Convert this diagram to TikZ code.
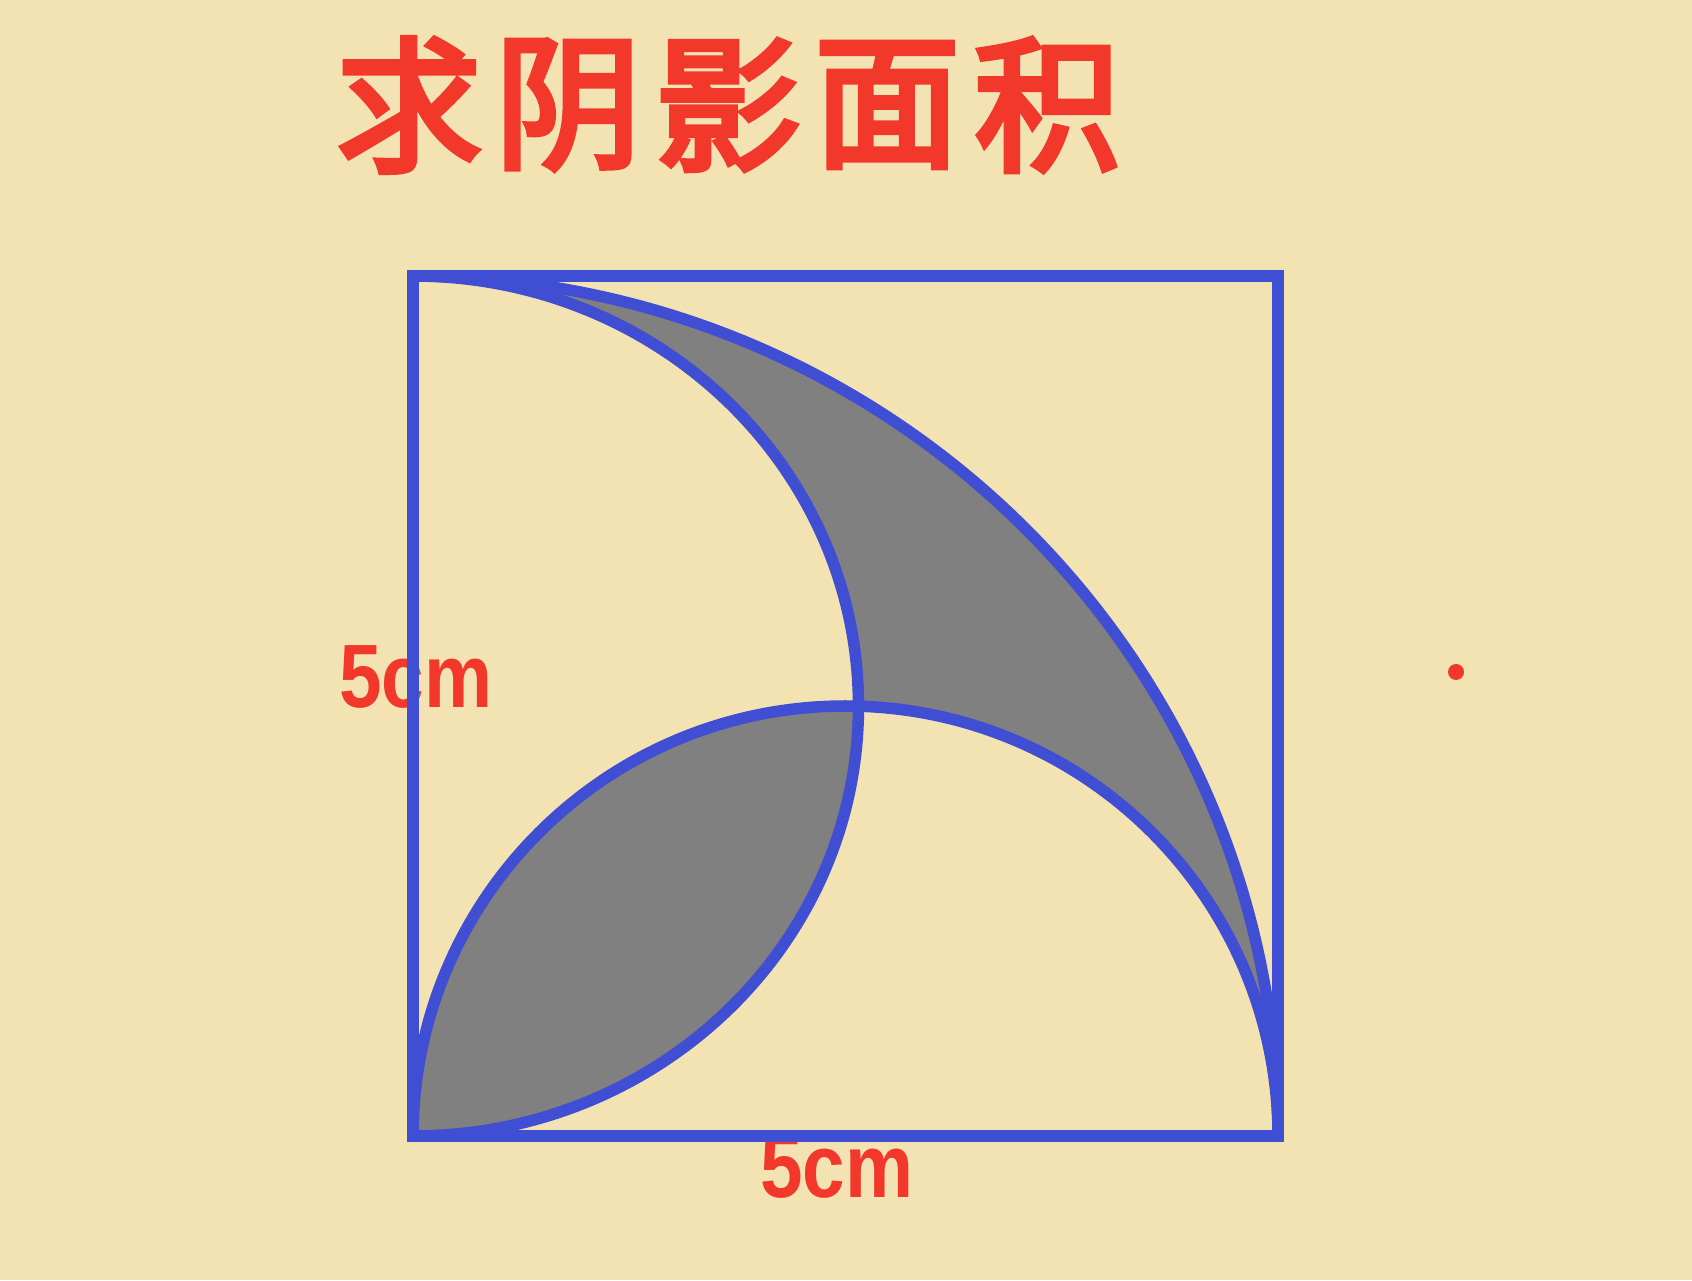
\documentclass[tikz,border=0pt]{standalone}
\usepackage{fontspec}
\setmainfont{Liberation Sans}
\newfontfamily\cjk{Noto Sans CJK SC}[FakeBold=4]
\definecolor{bgc}{HTML}{F3E2B2}
\definecolor{blu}{HTML}{3F4ED2}
\definecolor{rd}{HTML}{F2382A}
\definecolor{gry}{HTML}{808080}
\tikzset{
  edge/.style={draw=blu, line width=11.5pt, line join=miter},
  arcline/.style={draw=blu, line width=11.5pt},
  shade/.style={fill=gry},
  titlechar/.style={text=rd, inner sep=0pt, font=\cjk\fontsize{146}{150}\selectfont},
  lbl/.style={text=rd, inner sep=0pt, anchor=base, font=\bfseries\fontsize{90}{92}\selectfont}
}
\begin{document}
\begin{tikzpicture}[x=1pt,y=1pt]
\fill[bgc] (0,0) rectangle (1692,1280);
\useasboundingbox (0,0) rectangle (1692,1280);
% title
\node[titlechar] (t1) at (409,1175) {求};
\node[titlechar] (t2) at (568,1175) {阴};
\node[titlechar] (t3) at (728,1175) {影};
\node[titlechar] (t4) at (887,1175) {面};
\node[titlechar] (t5) at (1047,1175) {积};
% labels (under the square's edges)
\node[lbl] (lblL) at (416,572) {\scalebox{0.85}[1]{5cm}};
\node[lbl] (lblB) at (837,83) {\scalebox{0.85}[1]{5cm}};
\node[circle, fill=rd, inner sep=0pt, minimum size=16pt] (dot) at (1456,608) {};
\begin{scope}[shift={(413pt,144pt)}, x=173pt, y=172pt]
  % shaded regions
  \path[shade] (0,5) arc[start angle=90, end angle=0, radius=5]
     arc[start angle=0, end angle=88.3, radius=2.5]
     -- (2.575,2.5)
     arc[start angle=0, end angle=90, x radius=2.575, y radius=2.5] -- cycle;
  \path[shade] (0,0) arc[start angle=-90, end angle=0, x radius=2.575, y radius=2.5]
     -- (2.574,2.4989)
     arc[start angle=88.3, end angle=180, radius=2.5] -- cycle;
  % arcs
  \draw[arcline] (0,5) arc[start angle=90, end angle=0, radius=5];
  \draw[arcline] (0,5) arc[start angle=90, end angle=-90, x radius=2.575, y radius=2.5];
  \draw[arcline] (0,0) arc[start angle=180, end angle=0, radius=2.5];
  % square
  \draw[edge] (0,0) rectangle (5,5);
\end{scope}
\end{tikzpicture}
\end{document}
